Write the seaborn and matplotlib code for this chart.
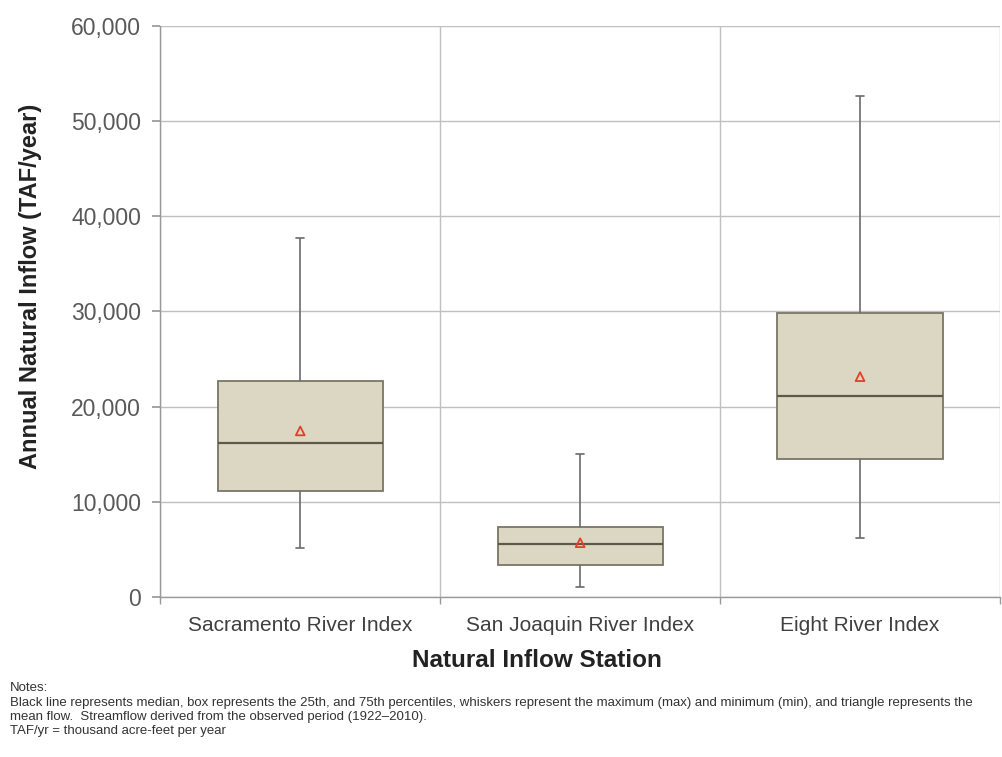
import numpy as np
import pandas as pd
import matplotlib
matplotlib.use("Agg")
import matplotlib.pyplot as plt
from matplotlib.ticker import FuncFormatter, FixedLocator
import seaborn as sns

# Annual natural inflow summary statistics (TAF/year), 1922-2010
stations = ["Sacramento River Index", "San Joaquin River Index", "Eight River Index"]
minimum = [5150, 1000, 6150]
p25 = [11150, 3350, 14500]
median = [16150, 5550, 21150]
p75 = [22700, 7300, 29800]
maximum = [37700, 15000, 52600]
mean = [17450, 5700, 23150]

sns.set_theme(style="white")
plt.rcParams["font.family"] = ["Liberation Sans", "DejaVu Sans"]

# Five-number summary per station -> long table for seaborn
rows = []
for i, s in enumerate(stations):
    for v in (minimum[i], p25[i], median[i], p75[i], maximum[i]):
        rows.append({"station": s, "flow": v})
df = pd.DataFrame(rows)
means = pd.DataFrame({"station": stations, "flow": mean})

fig = plt.figure(figsize=(10.02, 7.57), dpi=100)
ax = fig.add_axes([0.16, 0.2114, 0.838, 0.7543])

edge = "#7a7565"
sns.boxplot(
    data=df, x="station", y="flow", order=stations, ax=ax,
    whis=(0, 100), width=0.59, color="#dcd7c2", saturation=1,
    linewidth=1.3, showfliers=False,
    boxprops=dict(facecolor="#dcd7c2", edgecolor=edge),
    medianprops=dict(color="#5d5848", linewidth=1.6),
    whiskerprops=dict(color="#6b6b6b", linewidth=1.2),
    capprops=dict(color="#6b6b6b", linewidth=1.2),
    capwidths=0.03,
)
sns.scatterplot(
    data=means, x="station", y="flow", ax=ax, marker="^", s=40,
    facecolor="none", edgecolor="#e0402a", linewidth=1.3, zorder=5,
)

ax.set_xlim(-0.5, 2.5)
ax.set_ylim(0, 60000)
ax.yaxis.set_major_locator(FixedLocator(np.arange(0, 60001, 10000)))
ax.yaxis.set_major_formatter(FuncFormatter(lambda v, p: f"{int(v):,}"))
ax.xaxis.set_minor_locator(FixedLocator([-0.5, 0.5, 1.5, 2.5]))

grid_c = "#c0c0c0"
ax.grid(True, axis="y", which="major", color=grid_c, linewidth=1.0)
ax.grid(True, axis="x", which="minor", color=grid_c, linewidth=1.0)
ax.grid(False, axis="x", which="major")
ax.set_axisbelow(True)

for side in ["top", "right"]:
    ax.spines[side].set_visible(False)
for side in ["left", "bottom"]:
    ax.spines[side].set_color("#999999")
    ax.spines[side].set_linewidth(1.0)

ax.tick_params(axis="y", which="major", left=True, length=6, color="#999999",
               labelsize=16.5, labelcolor="#595959", pad=8)
ax.tick_params(axis="x", which="major", bottom=False, length=0, labelsize=15,
               labelcolor="#404040", pad=14)
ax.tick_params(axis="x", which="minor", bottom=True, length=5, color="#999999")

ax.set_xlabel("Natural Inflow Station", fontsize=17.5, fontweight="bold",
              color="#222222")
ax.xaxis.set_label_coords((538 - 160) / 842, -(661 - 597) / 571)
ax.xaxis.label.set_va("center")
ax.set_ylabel("Annual Natural Inflow (TAF/year)", fontsize=17,
              fontweight="bold", color="#222222")
ax.yaxis.set_label_coords(-(160 - 30) / 842, (597 - 286) / 571)
ax.yaxis.label.set_va("center")

note_font = dict(fontsize=9.5, color="#333333",
                 family=["Liberation Sans Narrow", "Liberation Sans", "DejaVu Sans"])
notes = [
    "Notes:",
    "Black line represents median, box represents the 25th, and 75th percentiles, whiskers represent the maximum (max) and minimum (min), and triangle represents the",
    "mean flow.  Streamflow derived from the observed period (1922\u20132010).",
    "TAF/yr = thousand acre-feet per year",
]
ys = [688, 703, 717, 731]
for t, yp in zip(notes, ys):
    fig.text(10 / 1002, 1 - yp / 757, t, va="center", ha="left", **note_font)

fig.savefig("out.png", dpi=100)
